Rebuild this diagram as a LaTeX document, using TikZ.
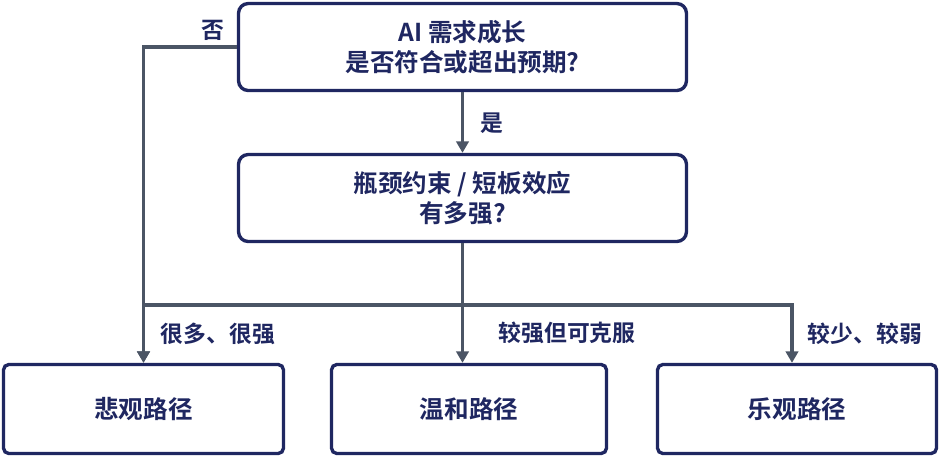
\documentclass[tikz,border=0pt]{standalone}
\usepackage{fontspec}
\usepackage{xcolor}
\usepackage{tikz}
\usetikzlibrary{arrows.meta}
\newfontfamily\cjk{Noto Sans CJK SC}[BoldFont={Noto Sans CJK SC Bold}]
\definecolor{navy}{HTML}{1F2761}
\definecolor{wire}{HTML}{4B5565}

\begin{document}
\begin{tikzpicture}[x=0.02cm,y=-0.02cm,
		box/.style={draw=navy,line width=1.9pt,rounded corners=5.5pt,fill=white,align=center,text=navy,
			font=\cjk\bfseries\fontsize{14}{17}\selectfont,inner sep=0pt,minimum width=8.96cm,minimum height=1.74cm},
		outbox/.style={box,rounded corners=3pt,minimum height=1.78cm},
		link/.style={draw=wire,line width=1.8pt},
		arr/.style={link,-{Triangle[length=6.5pt,width=7pt]}},
		lbl/.style={text=navy,font=\cjk\bfseries\fontsize{13}{16}\selectfont}]
	\useasboundingbox (0,0) rectangle (940,457);
	% Question boxes
	\node[box] (need) at (462.5,47) {AI 需求成长\\是否符合或超出预期?};
	\node[box] (neck) at (462.5,198) {瓶颈约束 / 短板效应\\有多强?};
	% Outcome boxes
	\foreach \n/\x/\w/\t in {bear/143.5/5.6/悲观路径, base/469/5.5/温和路径, bull/797/5.58/乐观路径}
		\node[outbox,minimum width=\w cm] (\n) at (\x,409) {\t};
	% Connectors
	\coordinate (bar) at (462.5,305);
	\draw[arr] (need) -- (neck);
	\draw[arr] (need.west) -| (bear);
	\draw[link] (neck) -- (bar);
	\draw[arr] (bar) -| (bear);
	\draw[arr] (bar) -- (bar |- base.north);
	\draw[arr] (bar) -| ([xshift=-0.1cm]bull.north);
	% Labels
	\node[lbl] (no) at (213,30) {否};
	\node[lbl] (yes) at (492,123) {是};
	\node[lbl] (lotsof) at (218,334) {很多、很强};
	\node[lbl] (fair) at (567,333) {较强但可克服};
	\node[lbl] (few) at (865,334) {较少、较弱};
\end{tikzpicture}
\end{document}
